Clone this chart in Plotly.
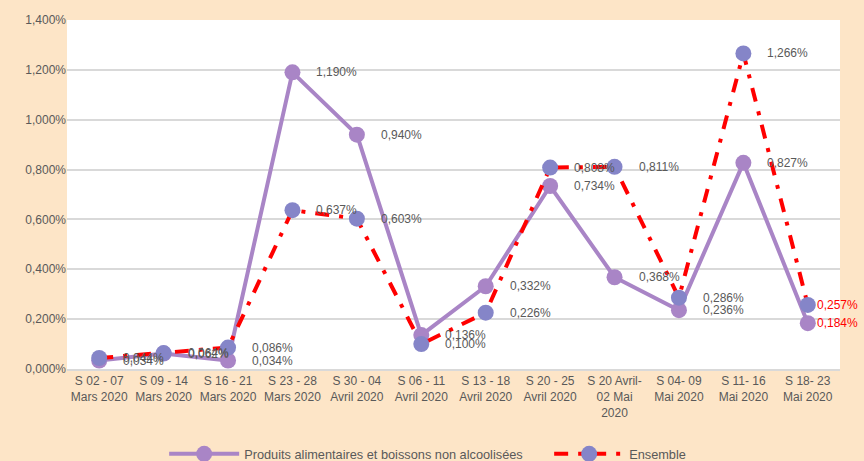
import plotly.graph_objects as go

categories = [
    "S 02 - 07<br>Mars 2020", "S 09 - 14<br>Mars 2020", "S 16 - 21<br>Mars 2020",
    "S 23 - 28<br>Mars 2020", "S 30 - 04<br>Avril 2020", "S 06 - 11<br>Avril 2020",
    "S 13 - 18<br>Avril 2020", "S 20 - 25<br>Avril 2020", "S 20 Avril-<br>02 Mai<br>2020",
    "S 04- 09<br>Mai 2020", "S 11- 16<br>Mai 2020", "S 18- 23<br>Mai 2020",
]
produits = [0.034, 0.062, 0.034, 1.190, 0.940, 0.136, 0.332, 0.734, 0.368, 0.236, 0.827, 0.184]
ensemble = [0.044, 0.064, 0.086, 0.637, 0.603, 0.100, 0.226, 0.808, 0.811, 0.286, 1.266, 0.257]
yticks = [0, 0.2, 0.4, 0.6, 0.8, 1.0, 1.2, 1.4]

PURPLE = "#A985C6"
BLUE = "#8585C8"
RED = "#FF0000"
GREY = "#595959"
BG = "#FDE5C7"
FONT = "Liberation Sans"

def fmt(v):
    return f"{v:.3f}".replace(".", ",") + "%"

fig = go.Figure()
fig.add_trace(go.Scatter(
    x=categories, y=produits, mode="lines+markers",
    name="Produits alimentaires et boissons non alcoolisées",
    line=dict(color=PURPLE, width=4),
    marker=dict(color=PURPLE, size=16),
))
fig.add_trace(go.Scatter(
    x=categories, y=ensemble, mode="lines+markers",
    name="Ensemble",
    line=dict(color=RED, width=4, dash="14px,10px,4px,10px"),
    marker=dict(color=BLUE, size=16),
))

annotations = []
n = len(categories)
for series in (produits, ensemble):
    for i, (c, v) in enumerate(zip(categories, series)):
        annotations.append(dict(
            x=c, y=v, xref="x", yref="y", text=fmt(v), showarrow=False,
            xanchor="left", yanchor="middle", xshift=22 if i < n - 1 else 7,
            font=dict(family=FONT, size=12, color=RED if i == n - 1 else GREY),
        ))

fig.update_layout(
    width=864, height=461,
    paper_bgcolor=BG, plot_bgcolor="#FFFFFF",
    margin=dict(l=67, r=24, t=20, b=92, autoexpand=False),
    font=dict(family=FONT, size=12, color=GREY),
    showlegend=True,
    legend=dict(orientation="h", x=0.19, xanchor="left", xref="container",
                y=0.015, yanchor="middle", yref="container",
                font=dict(family=FONT, size=12.75, color=GREY), bgcolor="rgba(0,0,0,0)",
                itemwidth=70, entrywidth=300),
    annotations=annotations,
)
fig.update_xaxes(
    type="category", showgrid=False, showline=True, linecolor="#D9D9D9", linewidth=2,
    ticks="", tickfont=dict(family=FONT, size=12, color=GREY), tickangle=0,
    range=[-0.5, n - 0.5], automargin=False,
)
fig.update_yaxes(
    range=[0, 1.4], tickvals=yticks, ticktext=[fmt(t) for t in yticks],
    showgrid=True, gridcolor="#D9D9D9", gridwidth=1.5, zeroline=False,
    tickfont=dict(family=FONT, size=12, color=GREY), ticks="", automargin=False,
)

fig.write_html(
    "out.html",
    config={"displayModeBar": False},
    post_script="document.body.style.margin='0';document.body.style.overflow='hidden';"
                "document.body.style.background='" + BG + "';",
)
